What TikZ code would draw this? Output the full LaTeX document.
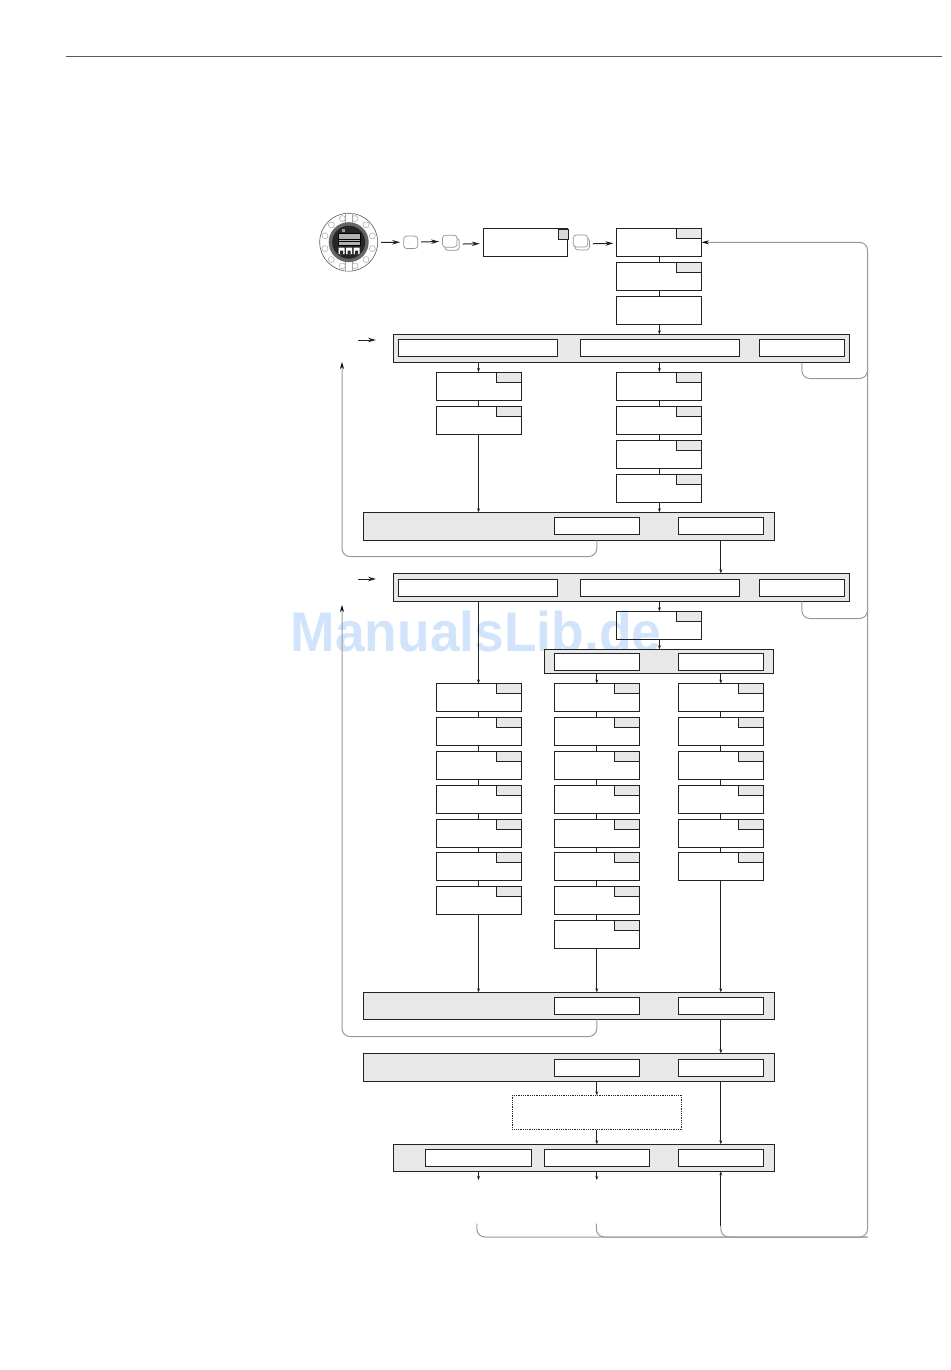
\documentclass[tikz,border=0pt]{standalone}
\usepackage{fontspec}
\usepackage{tikz}
\usetikzlibrary{
    positioning,
    arrows.meta
}
\newfontfamily\markfont{Liberation Sans}
\definecolor{inkline}{HTML}{222222}
\definecolor{railgray}{HTML}{999999}
\definecolor{panelgray}{HTML}{E8E8E8}
\definecolor{markblue}{HTML}{D2E4FB}
\tikzset{
    >={Stealth[length=4pt,width=3pt]},
    every node/.style={
        inner sep=0pt,
        outer sep=0pt
    },
    every edge/.style={
        draw=inkline,
        line width=1pt
    },
    menubox/.style={
        draw=inkline,
        line width=1pt,
        minimum width=85pt,
        minimum height=28pt
    },
    tagbox/.style={
        draw=inkline,
        fill=panelgray,
        line width=1pt,
        minimum width=25pt,
        minimum height=10pt,
        anchor=north east,
        label distance=0pt
    },
    tagged/.style={
        label={[tagbox,name=#1t]north east:}
    },
    panel/.style={
        draw=inkline,
        fill=panelgray,
        line width=1pt
    },
    slot/.style={
        draw=inkline,
        fill=white,
        line width=1pt,
        minimum height=17pt
    },
    keycap/.style={
        draw=gray!85,
        fill=white,
        rounded corners=3pt,
        line width=0.7pt,
        minimum width=14pt,
        minimum height=12.5pt
    },
    topflow/.style={
        -{Stealth[length=8pt,width=4.5pt]},
        shorten >=3.5pt,
        shorten <=3.5pt
    },
    railline/.style={
        draw=railgray,
        line width=1pt,
        rounded corners=8pt
    }
}

\begin{document}
\begin{tikzpicture}[
    x=1pt,
    y=-1pt,
    >={Stealth[length=4pt,width=3pt]}
]
    \useasboundingbox (0,0) rectangle (950,1370);

    % Watermark and head rule
    \node[text=markblue, xscale=0.953, transform shape] (mark) at (476,631.5)
        {\markfont\bfseries\fontsize{56}{56}\selectfont ManualsLib.de};
    \coordinate (ruleL) at (66,56.5);
    \coordinate (ruleR) at (942,56.5);
    \draw[draw=black!65, line width=1pt] (ruleL) -- (ruleR);

    % Dial
    \node[circle, draw=black!65, fill=white, line width=0.6pt, minimum size=58pt] (dial) at (348.7,242.2) {};
    \begin{scope}[shift={(dial.center)}]
        \draw[draw=gray!70, line width=0.5pt]
            (15:24.5) circle (3) (45:24.5) circle (3) (75:24.5) circle (3)
            (105:24.5) circle (3) (135:24.5) circle (3) (165:24.5) circle (3)
            (195:24.5) circle (3) (225:24.5) circle (3) (255:24.5) circle (3)
            (285:24.5) circle (3) (315:24.5) circle (3) (345:24.5) circle (3);
        \draw[draw=gray!70, line width=0.5pt]
            (-3.5,-29) -- (-3.5,-19) (3.5,-29) -- (3.5,-19)
            (-3.5,29) -- (-3.5,19) (3.5,29) -- (3.5,19);
        \fill[black!60] (0,0) circle (20);
        \fill[black!85] (0,0) circle (16.5);
        \fill[black!30] (-10.5,-9) rectangle (12,3.5);
        \draw[black, line width=0.7pt] (-10.5,-9) rectangle (12,3.5) (-10.5,-3) -- (12,-3) (-10.5,-1) -- (12,-1);
        \fill[black!40] (-6.5,-13) rectangle (-3.5,-10.5);
        \fill[white] (-10,5.5) rectangle (-4,12) (-2.5,5.5) rectangle (3.5,12) (5,5.5) rectangle (11,12);
        \fill[black!85] (-8.5,8.5) rectangle (-5.5,12) (-1,8.5) rectangle (2,12) (6.5,8.5) rectangle (9.5,12);
    \end{scope}

    % Keys and entry box
    \node[keycap]                    (keyA)  at (410.7,242.3) {};
    \node[keycap, minimum width=14.5pt, minimum height=12pt] (keyBb) at (452,244.3) {};
    \node[keycap, minimum width=14.5pt, minimum height=12pt] (keyB)  at (449.8,241.2) {};
    \node[menubox, minimum width=84.4pt, minimum height=28.4pt] (entry) at (525.5,242.5) {};
    \node[tagbox, minimum width=10.5pt, minimum height=10.5pt, fill=black!15] (entryt) at (568.7,229) {};
    \node[keycap, minimum width=14.5pt, minimum height=12pt] (keyCb) at (582.2,244) {};
    \node[keycap, minimum width=14.5pt, minimum height=12pt] (keyC)  at (580.5,241) {};

    % Main column
    \node[menubox, tagged=m1] (m1) at (659.4,242.3) {};
    \node[menubox, tagged=m2] (m2) at (659.4,276.3) {};
    \node[menubox]            (m3) at (659.4,310.3) {};

    % First panel
    \node[panel, minimum width=456pt, minimum height=28.4pt] (barA) at (621.3,348.5) {};
    \node[slot, minimum width=159pt]  (barAl) at (477.8,347.8) {};
    \node[slot, minimum width=159pt]  (barAm) at (659.8,347.8) {};
    \node[slot, minimum width=85pt]   (barAr) at (801.8,347.8) {};

    \node[menubox, tagged=a1] (a1) at (478.5,386) {};
    \node[menubox, tagged=a2] (a2) at (478.5,420) {};
    \node[menubox, tagged=m4] (m4) at (659.4,386) {};
    \node[menubox, tagged=m5] (m5) at (659.4,420) {};
    \node[menubox, tagged=m6] (m6) at (659.4,454) {};
    \node[menubox, tagged=m7] (m7) at (659.4,488) {};

    % Second panel
    \node[panel, minimum width=411pt, minimum height=28pt] (barB) at (568.8,526.3) {};
    \node[slot, minimum width=85.4pt] (barBl) at (596.8,525.8) {};
    \node[slot, minimum width=85.4pt] (barBr) at (720.8,525.8) {};

    % Third panel
    \node[panel, minimum width=456pt, minimum height=28pt] (barC) at (621.3,587.3) {};
    \node[slot, minimum width=159pt]  (barCl) at (477.8,588) {};
    \node[slot, minimum width=159pt]  (barCm) at (659.8,588) {};
    \node[slot, minimum width=85pt]   (barCr) at (801.8,588) {};

    \node[menubox, tagged=m8] (m8) at (659.4,625.3) {};

    \node[panel, minimum width=229.4pt, minimum height=24.4pt] (barD) at (659,661.5) {};
    \node[slot, minimum width=85.4pt] (barDl) at (596.8,661.8) {};
    \node[slot, minimum width=85.4pt] (barDr) at (720.8,661.8) {};

    % Three lists
    \node[menubox, tagged=p1] (p1) at (478.5,697.5) {};
    \node[menubox, tagged=p2] (p2) at (478.5,731.3) {};
    \node[menubox, tagged=p3] (p3) at (478.5,765) {};
    \node[menubox, tagged=p4] (p4) at (478.5,799) {};
    \node[menubox, tagged=p5] (p5) at (478.5,833) {};
    \node[menubox, tagged=p6] (p6) at (478.5,866) {};
    \node[menubox, tagged=p7] (p7) at (478.5,900) {};

    \node[menubox, tagged=q1] (q1) at (596.8,697.5) {};
    \node[menubox, tagged=q2] (q2) at (596.8,731.3) {};
    \node[menubox, tagged=q3] (q3) at (596.8,765) {};
    \node[menubox, tagged=q4] (q4) at (596.8,799) {};
    \node[menubox, tagged=q5] (q5) at (596.8,833) {};
    \node[menubox, tagged=q6] (q6) at (596.8,866) {};
    \node[menubox, tagged=q7] (q7) at (596.8,900) {};
    \node[menubox, tagged=q8] (q8) at (596.8,934) {};

    \node[menubox, tagged=r1] (r1) at (720.8,697.5) {};
    \node[menubox, tagged=r2] (r2) at (720.8,731.3) {};
    \node[menubox, tagged=r3] (r3) at (720.8,765) {};
    \node[menubox, tagged=r4] (r4) at (720.8,799) {};
    \node[menubox, tagged=r5] (r5) at (720.8,833) {};
    \node[menubox, tagged=r6] (r6) at (720.8,866) {};

    % Lower panels
    \node[panel, minimum width=411pt, minimum height=27pt] (barE) at (568.8,1005.8) {};
    \node[slot, minimum width=85.4pt] (barEl) at (596.8,1005.8) {};
    \node[slot, minimum width=85.4pt] (barEr) at (720.8,1005.8) {};

    \node[panel, minimum width=411pt, minimum height=28pt] (barF) at (568.8,1067.3) {};
    \node[slot, minimum width=85.4pt] (barFl) at (596.8,1067.8) {};
    \node[slot, minimum width=85.4pt] (barFr) at (720.8,1067.8) {};

    \node[draw=inkline, densely dotted, line width=0.8pt, minimum width=169.4pt, minimum height=34.4pt] (note) at (597,1112.5) {};

    \node[panel, minimum width=381pt, minimum height=27pt] (barG) at (583.8,1157.8) {};
    \node[slot, minimum width=106.4pt] (barGl) at (478.5,1157.8) {};
    \node[slot, minimum width=105pt]   (barGm) at (596.8,1157.8) {};
    \node[slot, minimum width=85.4pt]  (barGr) at (720.8,1157.8) {};

    % Free ends
    \coordinate (stepA)  at (358,340);
    \coordinate (stepAe) at (376,340);
    \coordinate (stepB)  at (358,579);
    \coordinate (stepBe) at (376,579);
    \coordinate (stubA)  at (478.5,1180);
    \coordinate (stubB)  at (596.8,1180);
    \coordinate (tailA)  at (476.8,1223.5);
    \coordinate (tailB)  at (596.3,1223.5);
    \coordinate (tailC)  at (720.8,1226);
    \coordinate (rail)   at (867.5,1237);
    \coordinate (joinA)  at (867.5,378.5);
    \coordinate (joinAe) at (867.5,368);
    \coordinate (joinC)  at (867.5,618.5);
    \coordinate (joinCe) at (867.5,608);
    \coordinate (backA)  at (342,556.5);
    \coordinate (backAe) at (342,362);
    \coordinate (backB)  at (342,1036.5);
    \coordinate (backBe) at (342,605);

    % Gray returns
    \draw[railline, -{Stealth[length=7pt,width=4pt,black]}]
        (tailA) |- (rail) -- (rail |- m1) -- (m1.east);
    \draw[railline] (tailB) |- (rail);
    \draw[railline] (tailC) |- (rail);
    \draw[railline] (barAr |- barA.south) |- (joinA) -- (joinAe);
    \draw[railline] (barCr |- barC.south) |- (joinC) -- (joinCe);
    \draw[railline, -{Stealth[length=7pt,width=4pt,black]}]
        (barBl |- barB.south) |- (backA) -- (backAe);
    \draw[railline, -{Stealth[length=7pt,width=4pt,black]}]
        (barEl |- barE.south) |- (backB) -- (backBe);

    % Top row
    \path[topflow]
        (dial) edge (keyA)
        (keyA) edge (keyB)
        (keyBb) edge (entry)
        (keyCb) edge (m1);

    \path[-{Stealth[length=8pt,width=4.5pt]}]
        (stepA) edge (stepAe)
        (stepB) edge (stepBe);

    % Connections
    \path[->]

        % main column
        (m1) edge[-] (m2)
        (m2) edge[-] (m3)
        (m3) edge (m3 |- barA.north)

        % first panel
        (barA.south -| a1) edge (a1)
        (barA.south -| m4) edge (m4)
        (a1) edge[-] (a2)
        (m4) edge[-] (m5)
        (m5) edge[-] (m6)
        (m6) edge[-] (m7)
        (a2) edge (a2 |- barB.north)
        (m7) edge (m7 |- barB.north)

        % second panel
        (barBr |- barB.south) edge (barBr |- barC.north)

        % third panel
        (barC.south -| p1) edge (p1)
        (barC.south -| m8) edge (m8)
        (m8) edge (m8 |- barD.north)
        (barDl |- barD.south) edge (q1)
        (barDr |- barD.south) edge (r1)

        % lists
        (p1) edge[-] (p2)
        (p2) edge[-] (p3)
        (p3) edge[-] (p4)
        (p4) edge[-] (p5)
        (p5) edge[-] (p6)
        (p6) edge[-] (p7)
        (q1) edge[-] (q2)
        (q2) edge[-] (q3)
        (q3) edge[-] (q4)
        (q4) edge[-] (q5)
        (q5) edge[-] (q6)
        (q6) edge[-] (q7)
        (q7) edge[-] (q8)
        (r1) edge[-] (r2)
        (r2) edge[-] (r3)
        (r3) edge[-] (r4)
        (r4) edge[-] (r5)
        (r5) edge[-] (r6)
        (p7) edge (p7 |- barE.north)
        (q8) edge (q8 |- barE.north)
        (r6) edge (r6 |- barE.north)

        % lower panels
        (barEr |- barE.south) edge (barEr |- barF.north)
        (barFl |- barF.south) edge (barFl |- note.north)
        (barFl |- note.south) edge (barGm |- barG.north)
        (barFr |- barF.south) edge (barGr |- barG.north)
        (barG.south -| stubA) edge (stubA)
        (barG.south -| stubB) edge (stubB)
        (tailC) edge (tailC |- barG.south);

\end{tikzpicture}
\end{document}
